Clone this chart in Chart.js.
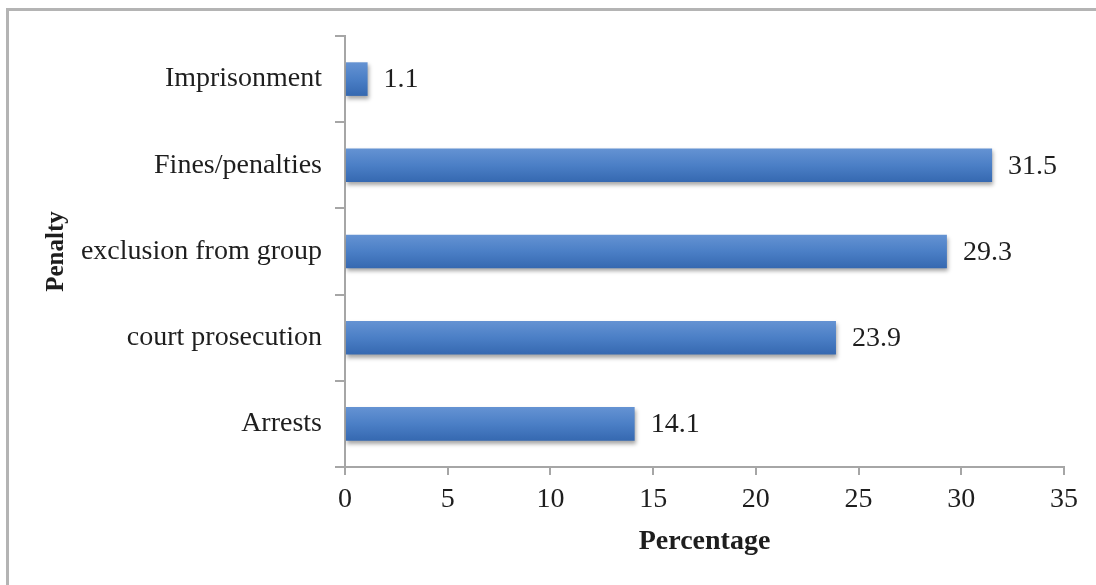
<!DOCTYPE html>
<html>
<head>
<meta charset="utf-8">
<script src="https://cdn.jsdelivr.net/npm/chart.js@4.4.0/dist/chart.umd.min.js"></script>
<style>
  html, body { margin: 0; padding: 0; background: #fff; }
  #frame { position: absolute; left: 6px; top: 8px; right: 0; bottom: 0;
           border-top: 3px solid #b4b4b4; border-left: 3px solid #b4b4b4; }
  #wrap { position: absolute; left: 0; top: 0; width: 1096px; height: 585px; }
</style>
</head>
<body>
<div id="frame"></div>
<div id="wrap"><canvas id="myChart" width="1096" height="585"></canvas></div>
<script>
const labels = ['Imprisonment', 'Fines/penalties', 'exclusion from group', 'court prosecution', 'Arrests']
const values = [1.1, 31.5, 29.3, 23.9, 14.1]
const xTicks = [0, 5, 10, 15, 20, 25, 30, 35]

const serif = '"Liberation Serif", "Times New Roman", serif'
const axisGray = '#a6a6a6'
const textColor = '#1e1e1e'

// gradient for each bar, light on top, darker at bottom
const barFill = (context) => {
  const chart = context.chart
  if (!chart.chartArea || !chart.scales.y) return '#4a7ec4'
  const yc = chart.scales.y.getPixelForValue(context.dataIndex)
  const g = chart.ctx.createLinearGradient(0, yc - 17, 0, yc + 17)
  g.addColorStop(0, '#6593d3')
  g.addColorStop(0.5, '#4b7fc6')
  g.addColorStop(1, '#3568b0')
  return g
}

const barShadow = {
  id: 'barShadow',
  beforeDatasetsDraw(chart) {
    const ctx = chart.ctx
    ctx.save()
    ctx.shadowColor = 'rgba(0,0,0,0.35)'
    ctx.shadowBlur = 4
    ctx.shadowOffsetX = 1
    ctx.shadowOffsetY = 3
  },
  afterDatasetsDraw(chart) {
    chart.ctx.restore()
  }
}

const valueLabels = {
  id: 'valueLabels',
  afterDatasetsDraw(chart) {
    const ctx = chart.ctx
    const meta = chart.getDatasetMeta(0)
    ctx.save()
    ctx.font = '28px ' + serif
    ctx.fillStyle = textColor
    ctx.textAlign = 'left'
    ctx.textBaseline = 'middle'
    meta.data.forEach((bar, i) => {
      ctx.fillText(values[i].toFixed(1), bar.x + 16, bar.y + 1)
    })
    ctx.restore()
  }
}

new Chart(document.getElementById('myChart'), {
  type: 'bar',
  data: {
    labels: labels,
    datasets: [{
      data: values,
      backgroundColor: barFill,
      borderWidth: 0,
      categoryPercentage: 1,
      barPercentage: 0.39
    }]
  },
  plugins: [barShadow, valueLabels],
  options: {
    indexAxis: 'y',
    responsive: false,
    animation: false,
    layout: { padding: { left: 25, top: 36, right: 32, bottom: 0 } },
    plugins: { legend: { display: false }, tooltip: { enabled: false } },
    scales: {
      x: {
        min: 0,
        max: 35,
        afterBuildTicks: (scale) => { scale.ticks = xTicks.map(v => ({ value: v })) },
        afterFit: (scale) => { scale.height = 118 },
        grid: { drawOnChartArea: false, drawTicks: true, tickLength: 8, color: axisGray, lineWidth: 2 },
        border: { color: axisGray, width: 2 },
        ticks: { color: textColor, font: { family: serif, size: 28 }, padding: 8, maxRotation: 0 },
        title: {
          display: true,
          text: 'Percentage',
          color: textColor,
          font: { family: serif, size: 28, weight: 'bold' },
          padding: { top: 0, bottom: 26 }
        }
      },
      y: {
        afterFit: (scale) => { scale.width = 320 },
        grid: { drawOnChartArea: false, drawTicks: true, tickLength: 10, color: axisGray, lineWidth: 2 },
        border: { color: axisGray, width: 2 },
        ticks: { color: textColor, font: { family: serif, size: 28 }, padding: 13 },
        title: {
          display: true,
          text: 'Penalty',
          color: textColor,
          font: { family: serif, size: 25, weight: 'bold' },
          padding: { top: 17, bottom: 0 }
        }
      }
    }
  }
})
</script>
</body>
</html>
